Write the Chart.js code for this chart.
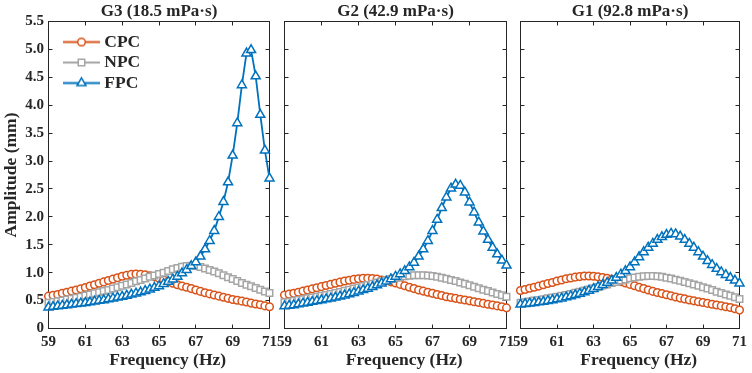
<!DOCTYPE html>
<html><head><meta charset="utf-8">
<title>Amplitude vs frequency</title>
<style>
  html, body { margin: 0; padding: 0; background: #fff; }
  #wrap { position: relative; width: 752px; height: 373px; }
  #wrap canvas { position: absolute; left: 0; top: 0; }
</style>
</head>
<body>
<div id="wrap">
  <canvas id="g3" width="752" height="373"></canvas>
  <canvas id="g2" width="752" height="373"></canvas>
  <canvas id="g1" width="752" height="373"></canvas>
</div>
<script src="https://cdn.jsdelivr.net/npm/chart.js"></script>
<script>
// ---- data ----
const freq = [59, 59.25, 59.5, 59.75, 60, 60.25, 60.5, 60.75, 61, 61.25, 61.5, 61.75, 62, 62.25, 62.5, 62.75,
  63, 63.25, 63.5, 63.75, 64, 64.25, 64.5, 64.75, 65, 65.25, 65.5, 65.75, 66, 66.25, 66.5, 66.75,
  67, 67.25, 67.5, 67.75, 68, 68.25, 68.5, 68.75, 69, 69.25, 69.5, 69.75, 70, 70.25, 70.5, 70.75, 71];

const seriesNames = ['CPC', 'NPC', 'FPC'];
const panelTitles = ['G3 (18.5 mPa·s)', 'G2 (42.9 mPa·s)', 'G1 (92.8 mPa·s)'];

// G3
const g3Cpc = [0.58, 0.595, 0.61, 0.63, 0.65, 0.67, 0.69, 0.71, 0.735, 0.76, 0.785, 0.81, 0.835, 0.86, 0.885, 0.91,
  0.935, 0.955, 0.97, 0.975, 0.97, 0.96, 0.945, 0.925, 0.90, 0.87, 0.84, 0.81, 0.785, 0.76, 0.74, 0.715,
  0.69, 0.665, 0.64, 0.62, 0.60, 0.58, 0.56, 0.54, 0.52, 0.505, 0.49, 0.475, 0.455, 0.44, 0.425, 0.405, 0.39];
const g3Npc = [0.46, 0.475, 0.49, 0.50, 0.52, 0.535, 0.55, 0.57, 0.59, 0.61, 0.63, 0.65, 0.67, 0.69, 0.715, 0.74,
  0.765, 0.79, 0.815, 0.845, 0.87, 0.895, 0.925, 0.95, 0.975, 1.0, 1.03, 1.06, 1.085, 1.105, 1.12, 1.125,
  1.12, 1.10, 1.075, 1.05, 1.02, 0.99, 0.955, 0.92, 0.885, 0.85, 0.815, 0.785, 0.755, 0.725, 0.695, 0.665, 0.635];
const g3Fpc = [0.38, 0.39, 0.40, 0.41, 0.42, 0.43, 0.44, 0.45, 0.46, 0.47, 0.485, 0.50, 0.51, 0.525, 0.54, 0.555,
  0.57, 0.59, 0.61, 0.63, 0.65, 0.675, 0.70, 0.73, 0.76, 0.80, 0.84, 0.88, 0.93, 0.99, 1.05, 1.12,
  1.19, 1.29, 1.42, 1.57, 1.75, 2.00, 2.27, 2.62, 3.10, 3.68, 4.36, 4.93, 4.99, 4.52, 3.83, 3.19, 2.69];

// G2
const g2Cpc = [0.60, 0.615, 0.63, 0.65, 0.67, 0.69, 0.71, 0.73, 0.75, 0.77, 0.79, 0.81, 0.83, 0.85, 0.865, 0.88,
  0.89, 0.90, 0.90, 0.895, 0.885, 0.87, 0.855, 0.835, 0.815, 0.79, 0.765, 0.74, 0.715, 0.69, 0.67, 0.65,
  0.63, 0.61, 0.59, 0.57, 0.555, 0.54, 0.525, 0.51, 0.495, 0.48, 0.465, 0.45, 0.435, 0.42, 0.405, 0.39, 0.37];
const g2Npc = [0.47, 0.48, 0.495, 0.51, 0.525, 0.54, 0.555, 0.57, 0.585, 0.60, 0.62, 0.635, 0.655, 0.675, 0.695, 0.715,
  0.735, 0.76, 0.78, 0.80, 0.825, 0.845, 0.865, 0.885, 0.905, 0.92, 0.935, 0.945, 0.955, 0.955, 0.955, 0.95,
  0.94, 0.925, 0.91, 0.89, 0.87, 0.85, 0.825, 0.80, 0.775, 0.75, 0.72, 0.695, 0.67, 0.645, 0.62, 0.595, 0.57];
const g2Fpc = [0.40, 0.41, 0.42, 0.435, 0.45, 0.465, 0.48, 0.495, 0.51, 0.525, 0.54, 0.555, 0.575, 0.595, 0.615, 0.64,
  0.665, 0.69, 0.715, 0.745, 0.775, 0.81, 0.845, 0.885, 0.93, 0.975, 1.03, 1.10, 1.18, 1.29, 1.42, 1.57,
  1.75, 1.95, 2.16, 2.35, 2.51, 2.58, 2.56, 2.44, 2.26, 2.08, 1.90, 1.74, 1.59, 1.45, 1.33, 1.22, 1.13];

// G1
const g1Cpc = [0.68, 0.70, 0.72, 0.74, 0.76, 0.785, 0.805, 0.825, 0.85, 0.87, 0.89, 0.905, 0.92, 0.93, 0.94, 0.94,
  0.935, 0.925, 0.915, 0.90, 0.88, 0.86, 0.84, 0.815, 0.79, 0.765, 0.74, 0.715, 0.69, 0.665, 0.645, 0.625,
  0.605, 0.585, 0.565, 0.545, 0.53, 0.51, 0.495, 0.48, 0.465, 0.45, 0.435, 0.42, 0.405, 0.39, 0.375, 0.355, 0.33];
const g1Npc = [0.46, 0.47, 0.485, 0.50, 0.51, 0.525, 0.54, 0.555, 0.57, 0.585, 0.60, 0.62, 0.64, 0.66, 0.68, 0.70,
  0.72, 0.745, 0.77, 0.79, 0.815, 0.835, 0.86, 0.88, 0.90, 0.915, 0.925, 0.935, 0.94, 0.94, 0.935, 0.925,
  0.91, 0.895, 0.875, 0.855, 0.835, 0.81, 0.79, 0.765, 0.74, 0.715, 0.69, 0.66, 0.635, 0.61, 0.585, 0.56, 0.53];
const g1Fpc = [0.43, 0.44, 0.45, 0.46, 0.47, 0.48, 0.495, 0.51, 0.525, 0.54, 0.56, 0.58, 0.60, 0.625, 0.65, 0.68,
  0.71, 0.745, 0.78, 0.82, 0.86, 0.91, 0.97, 1.03, 1.10, 1.19, 1.28, 1.37, 1.45, 1.52, 1.59, 1.64,
  1.68, 1.70, 1.69, 1.65, 1.59, 1.52, 1.45, 1.37, 1.29, 1.21, 1.14, 1.07, 1.01, 0.96, 0.91, 0.86, 0.81];

const yTickLabels = ['0', '0.5', '1.0', '1.5', '2.0', '2.5', '3.0', '3.5', '4.0', '4.5', '5.0', '5.5'];

// ---- styling ----
const axisColor = '#262626';
const colors = ['#D95319', '#A5A5A5', '#0072BD'];
const markers = [
  { style: 'circle', r: 3.8 },
  { style: 'rect', r: 4.6 },
  { style: 'triangle', r: 5.2 }
];
Chart.defaults.font.family = "'Liberation Serif', 'Times New Roman', serif";
Chart.defaults.font.weight = 'bold';
Chart.defaults.color = axisColor;

// frame box with inward ticks (MATLAB style)
const boxPlugin = {
  id: 'box',
  beforeDatasetsDraw(chart) {
    const { ctx, chartArea: a, scales: { x, y } } = chart;
    const tl = 4;
    ctx.save();
    ctx.strokeStyle = axisColor;
    ctx.lineWidth = 1;
    ctx.strokeRect(a.left, a.top, a.right - a.left, a.bottom - a.top);
    ctx.beginPath();
    x.ticks.forEach(t => {
      const px = Math.round(x.getPixelForValue(t.value) - 0.5) + 0.5;
      ctx.moveTo(px, a.bottom); ctx.lineTo(px, a.bottom - tl);
      ctx.moveTo(px, a.top); ctx.lineTo(px, a.top + tl);
    });
    y.ticks.forEach(t => {
      const py = Math.round(y.getPixelForValue(t.value) - 0.5) + 0.5;
      ctx.moveTo(a.left, py); ctx.lineTo(a.left + tl, py);
      ctx.moveTo(a.right, py); ctx.lineTo(a.right - tl, py);
    });
    ctx.stroke();
    ctx.restore();
  }
};

// legend symbol: line with marker in the middle
function legendSymbol(i) {
  const c = document.createElement('canvas');
  c.width = 61; c.height = 15;
  const g = c.getContext('2d');
  const cx = 38.5, cy = 7.5, r = markers[i].r;
  g.strokeStyle = colors[i];
  g.lineWidth = 1.8;
  g.beginPath(); g.moveTo(20, cy); g.lineTo(57, cy); g.stroke();
  g.fillStyle = '#fff';
  g.lineWidth = 1.5;
  g.beginPath();
  if (markers[i].style === 'circle') {
    g.arc(cx, cy, r, 0, Math.PI * 2);
  } else if (markers[i].style === 'rect') {
    const s = r * Math.SQRT1_2;
    g.rect(cx - s, cy - s, 2 * s, 2 * s);
  } else {
    g.moveTo(cx, cy - r);
    g.lineTo(cx + r * 0.866, cy + r / 2);
    g.lineTo(cx - r * 0.866, cy + r / 2);
    g.closePath();
  }
  g.fill(); g.stroke();
  return c;
}

const panels = [
  { id: 'g3', title: panelTitles[0], values: [g3Cpc, g3Npc, g3Fpc], left: 48.5, right: 269.5, first: true },
  { id: 'g2', title: panelTitles[1], values: [g2Cpc, g2Npc, g2Fpc], left: 284.5, right: 506.5, first: false },
  { id: 'g1', title: panelTitles[2], values: [g1Cpc, g1Npc, g1Fpc], left: 520.5, right: 742.5, first: false }
];

panels.forEach(p => {
  const datasets = p.values.map((vals, i) => ({
    label: seriesNames[i],
    data: freq.map((f, k) => ({ x: f, y: vals[k] })),
    borderColor: colors[i],
    borderWidth: 1.8,
    backgroundColor: '#fff',
    pointStyle: markers[i].style,
    pointRadius: markers[i].r,
    pointBorderWidth: 1.5,
    pointBackgroundColor: '#fff',
    pointBorderColor: colors[i],
    tension: 0,
    clip: false,
    order: 2 - i
  }));

  new Chart(document.getElementById(p.id), {
    type: 'line',
    data: { datasets },
    plugins: [boxPlugin],
    options: {
      responsive: false,
      animation: false,
      devicePixelRatio: 1,
      layout: { padding: { left: p.first ? 0 : p.left, right: 752 - p.right, top: 0, bottom: 0 } },
      scales: {
        x: {
          type: 'linear', min: 59, max: 71,
          grid: { display: false, drawTicks: false },
          border: { display: false },
          ticks: { stepSize: 2, autoSkip: false, maxRotation: 0, padding: 5, font: { size: 15 }, color: axisColor },
          title: { display: true, text: '\u2003Frequency (Hz)', font: { size: 17.5 }, padding: { top: 0, bottom: 2.2 }, color: axisColor },
          afterFit: s => { s.height = 44.5; }
        },
        y: {
          type: 'linear', min: 0, max: 5.5,
          grid: { display: false, drawTicks: false },
          border: { display: false },
          ticks: {
            display: p.first, stepSize: 0.5, padding: 4.5, font: { size: 15 }, color: axisColor,
            callback: (v, idx) => yTickLabels[idx]
          },
          title: { display: p.first, text: 'Amplitude (mm)', font: { size: 17.5 }, padding: { top: 1.2, bottom: 0 }, color: axisColor },
          afterFit: s => { s.width = p.first ? 48.5 : 0; }
        }
      },
      plugins: {
        tooltip: { enabled: false },
        title: {
          display: true, text: p.title, fullSize: false,
          font: { size: 17, weight: 'bold' }, color: axisColor,
          padding: { top: 1.1, bottom: 0 }
        },
        legend: {
          display: p.first,
          position: 'chartArea',
          align: 'start',
          title: { display: true, text: ' ', font: { size: 6 }, padding: { top: 21.8, bottom: 1.3 } },
          labels: {
            usePointStyle: true,
            pointStyleWidth: 44,
            padding: 3,
            font: { size: 17.5, weight: 'bold' },
            color: axisColor,
            generateLabels: () => seriesNames.map((n, i) => ({
              text: n, pointStyle: legendSymbol(i), datasetIndex: i,
              fillStyle: '#fff', strokeStyle: colors[i], lineWidth: 0, hidden: false, fontColor: axisColor
            }))
          }
        }
      }
    }
  });
});
</script>
</body></html>
